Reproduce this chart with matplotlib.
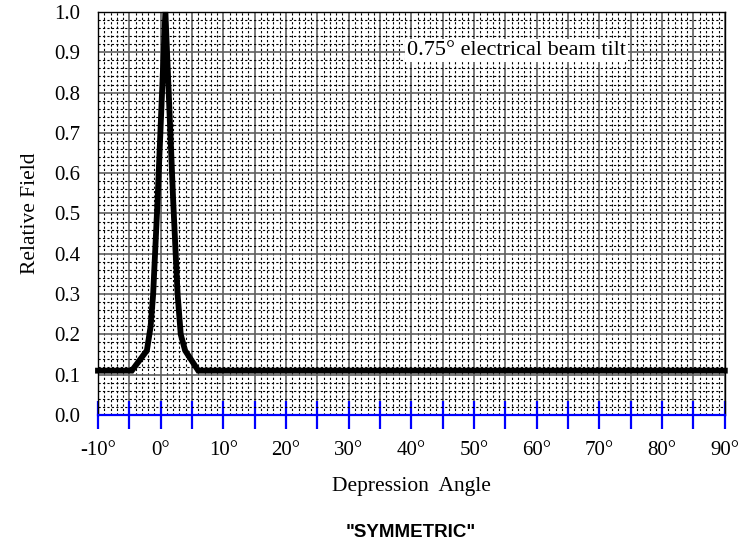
import numpy as np
import matplotlib.pyplot as plt
from matplotlib.ticker import FixedLocator, MultipleLocator

# elevation pattern
angle = [-10, -4.6, -2.2, -1.6, -1.2, -0.5, 0.75, 2.0, 2.7, 3.2, 3.9, 6.0, 90]
field = [0.11, 0.11, 0.16, 0.22, 0.30, 0.53, 1.0, 0.53, 0.30, 0.20, 0.16, 0.11, 0.11]

x_ticks = [-10, -5, 0, 5, 10, 15, 20, 25, 30, 35, 40, 45, 50, 55, 60, 65, 70, 75, 80, 85, 90]
x_labels = ['-10°', '', '0°', '', '10°', '', '20°', '', '30°', '', '40°', '', '50°', '',
            '60°', '', '70°', '', '80°', '', '90°']
y_ticks = [0.0, 0.1, 0.2, 0.3, 0.4, 0.5, 0.6, 0.7, 0.8, 0.9, 1.0]

serif = ['Liberation Serif', 'DejaVu Serif']

fig = plt.figure(figsize=(7.48, 5.58), dpi=100)
ax = fig.add_axes([0.131, 0.2563, 0.838, 0.7222])

ax.set_xlim(-10, 90)
ax.set_ylim(0, 1)

# grid: solid every 5 deg / 0.1, dotted every 1 deg / 0.02
ax.xaxis.set_minor_locator(MultipleLocator(1))
ax.yaxis.set_minor_locator(MultipleLocator(0.02))
ax.grid(which='minor', color='black', linestyle=(0, (2, 2)), linewidth=0.8)
ax.grid(which='major', color='#606060', linestyle='-', linewidth=1.2)
ax.set_axisbelow(True)

ax.plot(angle, field, color='black', linewidth=4.2, solid_joinstyle='miter',
        clip_on=False, zorder=3)

ax.xaxis.set_major_locator(FixedLocator(x_ticks))
ax.set_xticklabels(x_labels, fontfamily=serif, fontsize=15)
ax.yaxis.set_major_locator(FixedLocator(y_ticks))
ax.set_yticklabels(['%.1f' % v for v in y_ticks], fontfamily=serif, fontsize=15)

ax.tick_params(axis='x', which='major', direction='inout', length=20, width=1.6,
               color='blue', pad=9)
ax.tick_params(axis='x', which='minor', length=0)
ax.tick_params(axis='y', which='both', length=0, pad=13)

for side in ['top', 'right', 'left']:
    ax.spines[side].set_color('black')
    ax.spines[side].set_linewidth(1.0)
ax.spines['bottom'].set_color('blue')
ax.spines['bottom'].set_linewidth(1.6)

ax.text(39.3, 0.905, '0.75° electrical beam tilt', fontfamily=serif, fontsize=16,
        ha='left', va='center', zorder=4,
        bbox=dict(facecolor='white', edgecolor='none', pad=1.5))

ax.set_xlabel('Depression  Angle', fontfamily=serif, fontsize=15.5, labelpad=12)
ax.set_ylabel('Relative Field', fontfamily=serif, fontsize=15.5, labelpad=10)

fig.text(0.549, 0.046, '"SYMMETRIC"', fontfamily=['Liberation Sans', 'DejaVu Sans'],
         fontsize=13.5, fontweight='bold', ha='center', va='center')

fig.savefig('out.png', dpi=100)
